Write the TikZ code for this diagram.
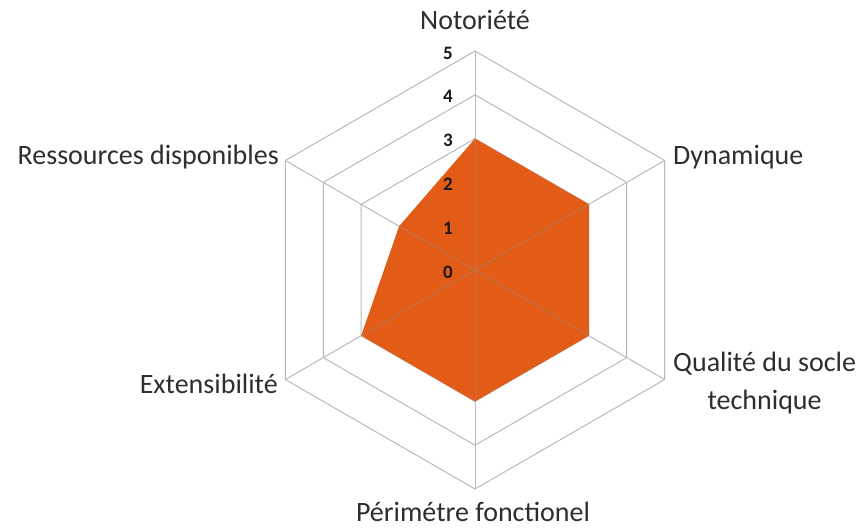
\documentclass[tikz,border=0pt]{standalone}
\usepackage{fontspec}
\setmainfont{Carlito}
\definecolor{datacol}{RGB}{226,91,23}
\begin{document}
\begin{tikzpicture}[x=1pt,y=-1pt,
  grid/.style={draw=gray!55,line width=1pt},
  axisover/.style={draw=gray!85,line width=1pt,opacity=0.4},
  datafill/.style={fill=datacol,draw=none},
  catlabel/.style={font=\fontsize{28}{38}\selectfont,text=black!82,inner sep=2pt},
  levlabel/.style={font=\fontsize{19}{21}\selectfont\bfseries,text=black!90,inner sep=0pt}]
\useasboundingbox (0,0) rectangle (861,530);
\begin{scope}[shift={(475,270)}]
\def\st{43.8}
% axis vertices at level 5
\foreach \n/\a in {N/270,D/330,Q/30,P/90,E/150,R/210}{
  \coordinate (\n5) at (\a:{5*\st});
}
\coordinate (O) at (0,0);
% grid hexagons
\foreach \k in {1,...,5}{
  \draw[grid] (270:{\k*\st}) -- (330:{\k*\st}) -- (30:{\k*\st}) -- (90:{\k*\st}) -- (150:{\k*\st}) -- (210:{\k*\st}) -- cycle;
}
\foreach \n in {N,D,Q,P,E,R}{
  \draw[grid] (O) -- (\n5);
}
% data polygon
\coordinate (dN) at (270:{3*\st});
\coordinate (dD) at (330:{3*\st});
\coordinate (dQ) at (30:{3*\st});
\coordinate (dP) at (90:{3*\st});
\coordinate (dE) at (150:{3*\st});
\coordinate (dR) at (210:{2*\st});
\fill[datafill] (dN) -- (dD) -- (dQ) -- (dP) -- (dE) -- (dR) -- cycle;
\foreach \n in {dN,dD,dQ,dP,dE,dR}{
  \draw[axisover] (O) -- (\n);
}
% level labels
\foreach \k in {0,...,5}{
  \node[levlabel] (lev\k) at (-27,{-\k*\st+2}) {\k};
}
\end{scope}
% category labels
\node[catlabel] (lN) at (475,20) {Notoriété};
\node[catlabel,anchor=west] (lD) at (671,157) {Dynamique};
\node[catlabel,anchor=west,align=center] (lQ) at (671,383) {Qualité du socle\\technique};
\node[catlabel] (lP) at (473,512) {Périmétre fonctionel};
\node[catlabel,anchor=east] (lE) at (280,384) {Extensibilité};
\node[catlabel,anchor=east] (lR) at (281,157) {Ressources disponibles};
\end{tikzpicture}
\end{document}
